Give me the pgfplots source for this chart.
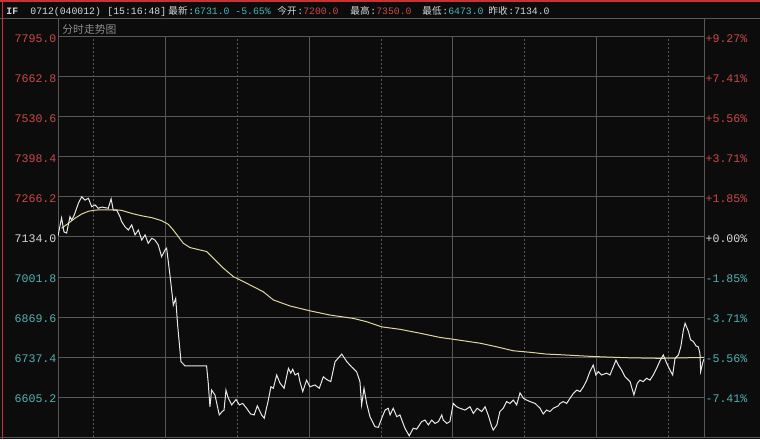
\documentclass[border=0pt]{standalone}
\usepackage{fontspec}
\setmonofont{Liberation Mono}
\newfontfamily\cjk{Noto Sans CJK SC}
\usepackage{pgfplots}
\usepackage{pgfplotstable}
\pgfplotsset{compat=1.18}

\definecolor{bg}{RGB}{12,12,12}
\definecolor{gridc}{RGB}{88,88,88}
\definecolor{upred}{RGB}{205,72,72}
\definecolor{dnteal}{RGB}{80,178,178}
\definecolor{txtw}{RGB}{215,215,215}
\definecolor{avgc}{RGB}{222,216,160}
\definecolor{pricec}{RGB}{232,232,232}
\definecolor{frame}{RGB}{200,50,50}

\newcommand\tickfont{\ttfamily\fontsize{5.8}{6}\selectfont}
\newcommand\hdfont{\ttfamily\fontsize{4.9}{5}\selectfont}
\newcommand\hdcjk{\cjk\fontsize{4.8}{5}\selectfont}

% minutes since 9:15 (lunch break removed), price
\pgfplotstableread{
t v
0.0 7138
1.5 7197
2.5 7151
3.6 7147
5.0 7201
5.7 7190
6.8 7207
8.5 7245
9.9 7267
11.3 7256
12.7 7262
14.1 7234
15.5 7240
16.8 7229
18.4 7233
19.6 7231
21.0 7229
22.2 7260
23.1 7223
24.5 7223
25.9 7201
26.6 7185
28.0 7168
29.4 7157
30.8 7174
32.2 7141
33.6 7157
35.0 7124
36.4 7141
37.7 7113
39.2 7130
40.5 7124
41.9 7108
43.3 7069
44.7 7091
45.4 7097
46.8 7008
48.2 6909
49.2 6931
50.0 6843
51.4 6722
53.1 6708
62.1 6708
62.8 6651
63.5 6573
64.2 6628
65.6 6612
67.4 6546
68.5 6556
69.4 6562
70.2 6628
71.2 6601
72.6 6579
74.4 6597
75.8 6579
77.2 6584
78.8 6568
80.5 6549
82.0 6546
83.3 6576
85.1 6546
86.2 6535
87.9 6595
89.0 6639
90.0 6634
91.4 6678
92.8 6651
94.5 6634
96.3 6700
97.3 6684
98.1 6697
99.1 6678
100.4 6684
101.1 6656
102.3 6623
103.9 6661
105.3 6639
107.4 6645
109.2 6634
110.9 6672
112.3 6663
114.0 6656
115.8 6722
118.6 6747
120.7 6722
122.7 6705
124.8 6689
126.2 6656
126.9 6579
127.9 6634
129.0 6584
130.4 6540
132.5 6507
133.9 6505
135.3 6535
136.7 6562
138.0 6568
138.8 6546
140.1 6568
141.6 6540
142.9 6546
145.0 6502
146.8 6477
148.5 6502
149.9 6499
152.0 6524
153.4 6529
154.8 6513
156.2 6529
157.6 6518
159.0 6524
160.4 6546
161.0 6529
162.5 6518
163.8 6524
165.2 6584
166.6 6573
168.0 6568
170.1 6562
172.2 6573
173.6 6551
175.2 6568
177.1 6557
178.5 6573
179.8 6546
181.3 6507
181.9 6496
183.4 6513
184.7 6557
186.1 6568
187.5 6590
188.9 6584
190.3 6595
191.7 6579
193.1 6619
194.5 6601
195.9 6595
197.3 6590
199.4 6584
201.5 6568
202.8 6549
204.2 6562
205.6 6557
207.0 6568
209.1 6576
209.8 6584
211.2 6590
212.6 6584
214.0 6601
215.4 6617
216.8 6628
218.2 6623
219.6 6639
221.0 6661
222.3 6689
223.7 6711
224.8 6678
225.8 6689
227.2 6678
229.3 6684
230.7 6678
232.1 6705
233.2 6727
234.2 6711
235.6 6694
237.0 6672
239.1 6656
240.7 6612
242.1 6650
243.2 6661
244.6 6656
246.0 6667
247.4 6661
248.8 6678
250.2 6700
251.6 6725
253.0 6744
254.4 6717
255.8 6694
256.9 6678
257.9 6733
259.3 6744
260.3 6771
261.4 6827
262.1 6849
263.5 6822
264.4 6794
265.5 6789
266.7 6774
267.6 6771
268.3 6750
268.6 6689
269.4 6717
270.0 6731
}\price

% average price
\pgfplotstableread{
t v
1.5 7163
4.3 7179
7.1 7196
9.9 7210
12.7 7219
15.5 7223
19.6 7224
23.8 7224
26.6 7222
30.8 7212
35.0 7204
39.2 7198
43.3 7188
46.1 7176
48.2 7157
50.3 7135
52.4 7113
55.2 7099
62.1 7086
64.9 7064
69.1 7031
73.3 7003
78.9 6981
85.8 6953
90.0 6926
97.0 6906
105.3 6890
113.7 6876
123.4 6865
129.0 6854
135.3 6837
142.9 6829
151.3 6816
159.7 6802
165.2 6796
176.4 6783
183.4 6771
190.3 6758
197.3 6753
204.2 6747
209.8 6745
223.7 6739
237.5 6735
251.6 6733
270.0 6736
}\avgp

\begin{document}
\begin{tikzpicture}
\useasboundingbox (0,0) rectangle (380pt,219.5pt);
\fill[bg] (0,0) rectangle (380pt,219.5pt);

\begin{axis}[
  at={(29pt,1pt)}, anchor=south west,
  width=323pt, height=200pt, scale only axis,
  xmin=0, xmax=270, ymin=6473, ymax=7795,
  axis line style={draw=gridc, line width=0.5pt},
  tick style={draw=none},
  xtick={45,105,165,225},
  minor xtick={15,75,135,195,255},
  xticklabels={},
  xmajorgrids, xminorgrids, ymajorgrids,
  major grid style={draw=gridc, line width=0.5pt},
  minor grid style={draw=gridc, line width=0.5pt, dash pattern=on 1pt off 1pt},
  ytick={6605.2,6737.4,6869.6,7001.8,7134,7266.2,7398.4,7530.6,7662.8,7795},
  yticklabels={
    \textcolor{dnteal}{6605.2},\textcolor{dnteal}{6737.4},
    \textcolor{dnteal}{6869.6},\textcolor{dnteal}{7001.8},
    \textcolor{txtw}{7134.0},\textcolor{upred}{7266.2},
    \textcolor{upred}{7398.4},\textcolor{upred}{7530.6},
    \textcolor{upred}{7662.8},\textcolor{upred}{7795.0}},
  yticklabel style={font=\tickfont, inner sep=0.6pt, yshift=-1pt},
]
\addplot[avgc, line width=0.5pt] table[x=t, y=v] {\avgp};
\addplot[pricec, line width=0.5pt] table[x=t, y=v] {\price};
\end{axis}

\begin{axis}[
  at={(29pt,1pt)}, anchor=south west,
  width=323pt, height=200pt, scale only axis,
  xmin=0, xmax=270, ymin=6473, ymax=7795,
  axis x line=none, axis y line*=right,
  axis line style={draw=gridc, line width=0.5pt},
  tick style={draw=none},
  ytick={6605.2,6737.4,6869.6,7001.8,7134,7266.2,7398.4,7530.6,7662.8,7795},
  yticklabels={
    \textcolor{dnteal}{-7.41\%},\textcolor{dnteal}{-5.56\%},
    \textcolor{dnteal}{-3.71\%},\textcolor{dnteal}{-1.85\%},
    \textcolor{txtw}{+0.00\%},\textcolor{upred}{+1.85\%},
    \textcolor{upred}{+3.71\%},\textcolor{upred}{+5.56\%},
    \textcolor{upred}{+7.41\%},\textcolor{upred}{+9.27\%}},
  yticklabel style={font=\tickfont, inner sep=0.6pt, yshift=-1pt},
]
\addplot[draw=none] coordinates {(0,7134)};
\end{axis}

% frame
\draw[gridc, line width=0.5pt] (0,210pt) -- (380pt,210pt);
\draw[gridc, line width=0.5pt] (0,1pt) -- (380pt,1pt);
\draw[gridc, line width=0.5pt] (29pt,201pt) -- (29pt,210pt);
\draw[gridc, line width=0.5pt] (352pt,201pt) -- (352pt,210pt);
\draw[frame, line width=1pt] (0,219pt) -- (380pt,219pt);
\draw[frame, line width=0.8pt] (1.3pt,0) -- (1.3pt,219.5pt);

\node[anchor=base west, inner sep=0, text=txtw] at (31pt,202.8pt) {\cjk\fontsize{5.4}{6}\selectfont\color{gray!90}分时走势图};

% header
\begin{scope}[every node/.style={anchor=base west, inner sep=0, text=txtw}]
\node at (3pt,212pt) {\hdfont\bfseries IF};
\node at (15pt,212pt) {\hdfont 0712(040012)};
\node at (53.5pt,212pt) {\hdfont [15:16:48]};
\node (a) at (84pt,212pt) {\hdcjk 最新};
\node at (a.base east) {\hdfont:\textcolor{dnteal}{6731.0}};
\node at (117.5pt,212pt) {\hdfont\textcolor{dnteal}{-5.65\%}};
\node (b) at (138.5pt,212pt) {\hdcjk 今开};
\node at (b.base east) {\hdfont:\textcolor{upred}{7200.0}};
\node (c) at (175pt,212pt) {\hdcjk 最高};
\node at (c.base east) {\hdfont:\textcolor{upred}{7350.0}};
\node (d) at (211pt,212pt) {\hdcjk 最低};
\node at (d.base east) {\hdfont:\textcolor{dnteal}{6473.0}};
\node (e) at (244pt,212pt) {\hdcjk 昨收};
\node at (e.base east) {\hdfont:7134.0};
\end{scope}
\end{tikzpicture}
\end{document}
